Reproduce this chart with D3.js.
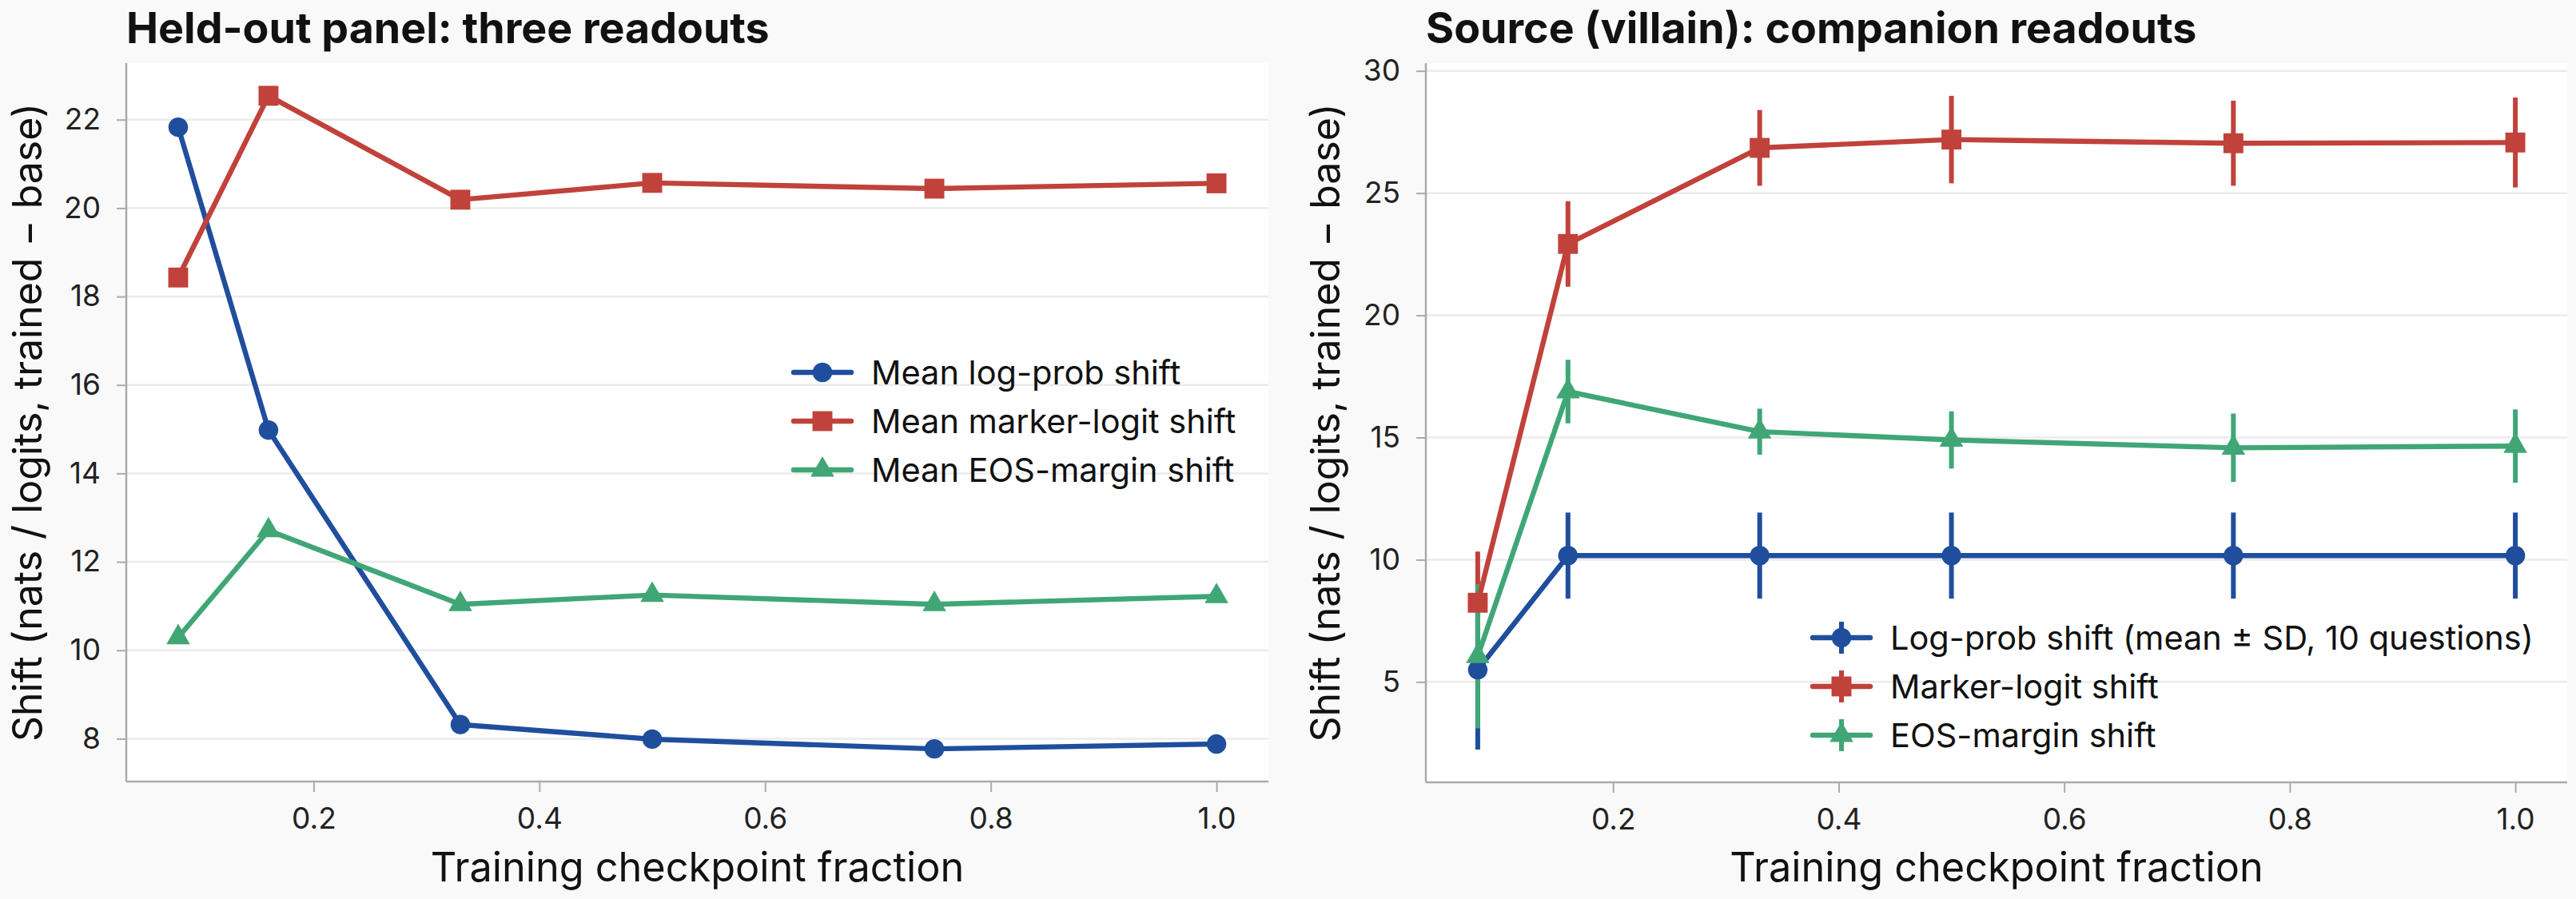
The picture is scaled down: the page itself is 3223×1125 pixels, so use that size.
<!DOCTYPE html>
<html>
<head>
<meta charset="utf-8">
<script src="https://cdn.jsdelivr.net/npm/d3@7"></script>
<style>
  body { margin: 0; background: #f9f9f9; }
  svg { display: block; font-family: Inter, "Noto Sans", sans-serif; }
</style>
</head>
<body>
<div id="chart"></div>
<script>
// checkpoints shared by both panels
const checkpoints = [0.08, 0.16, 0.33, 0.5, 0.75, 1.0];
const xTicks = [0.2, 0.4, 0.6, 0.8, 1.0];

// held-out panel
const heldLogProb = [21.83, 14.98, 8.32, 7.99, 7.77, 7.88];
const heldMarker = [18.43, 22.54, 20.19, 20.57, 20.44, 20.56];
const heldEos = [10.29, 12.71, 11.04, 11.25, 11.04, 11.22];
const heldYTicks = [8, 10, 12, 14, 16, 18, 20, 22];
const heldNames = ['Mean log-prob shift', 'Mean marker-logit shift', 'Mean EOS-margin shift'];

// source (villain) panel, mean and SD
const srcLogProb = [5.50, 10.17, 10.17, 10.17, 10.17, 10.17];
const srcLogProbSd = [3.27, 1.76, 1.76, 1.76, 1.76, 1.76];
const srcMarker = [8.24, 22.92, 26.85, 27.19, 27.04, 27.07];
const srcMarkerSd = [2.09, 1.75, 1.55, 1.79, 1.74, 1.84];
const srcEos = [6.05, 16.88, 15.24, 14.90, 14.58, 14.65];
const srcEosSd = [2.95, 1.30, 0.94, 1.17, 1.40, 1.50];
const srcYTicks = [5, 10, 15, 20, 25, 30];
const srcNames = ['Log-prob shift (mean \u00b1 SD, 10 questions)', 'Marker-logit shift', 'EOS-margin shift'];

const colors = ['#1f4e9d', '#c0423b', '#40a676'];
const shapes = [d3.symbolCircle, d3.symbolSquare, d3.symbolTriangle];
const symSizes = [470, 620, 380];

const W = 3223, H = 1125;
const svg = d3.select('#chart').append('svg')
    .attr('width', W).attr('height', H);
svg.append('rect').attr('width', W).attr('height', H).attr('fill', '#f9f9f9');

// matplotlib-like 5% padding
function padDomain(lo, hi) {
  const m = (hi - lo) * 0.05;
  return [lo - m, hi + m];
}

function panel(opts) {
  const {left, right, top, bottom, series, yTicks, title, names, legend} = opts;
  const g = svg.append('g');

  const x = d3.scaleLinear()
      .domain(padDomain(d3.min(checkpoints), d3.max(checkpoints)))
      .range([left, right]);
  const lo = d3.min(series, s => d3.min(s.values, (v, i) => v - (s.sd ? s.sd[i] : 0)));
  const hi = d3.max(series, s => d3.max(s.values, (v, i) => v + (s.sd ? s.sd[i] : 0)));
  const y = d3.scaleLinear().domain(padDomain(lo, hi)).range([bottom, top]);

  g.append('rect')
      .attr('x', left).attr('y', top)
      .attr('width', right - left).attr('height', bottom - top)
      .attr('fill', '#ffffff');

  // grid
  g.append('g')
      .selectAll('line')
      .data(yTicks)
      .enter()
      .append('line')
      .attr('x1', left).attr('x2', right)
      .attr('y1', d => y(d)).attr('y2', d => y(d))
      .attr('stroke', '#ebebeb')
      .attr('stroke-width', 2.5);

  // axes
  const yAxis = g.append('g')
      .attr('transform', 'translate(' + left + ',0)')
      .call(d3.axisLeft(y).tickValues(yTicks).tickSize(12).tickPadding(20).tickSizeOuter(0));
  const xAxis = g.append('g')
      .attr('transform', 'translate(0,' + bottom + ')')
      .call(d3.axisBottom(x).tickValues(xTicks).tickFormat(d3.format('.1f'))
        .tickSize(13).tickPadding(20).tickSizeOuter(0));
  [xAxis, yAxis].forEach(a => {
    a.select('.domain').remove();
    a.selectAll('line').attr('stroke', '#aaaaaa').attr('stroke-width', 2);
    a.selectAll('text').attr('font-size', 37).attr('fill', '#222').attr('font-family', 'Inter');
  });
  g.append('line')
      .attr('x1', left).attr('x2', left).attr('y1', top).attr('y2', bottom)
      .attr('stroke', '#aaaaaa').attr('stroke-width', 2.5);
  g.append('line')
      .attr('x1', left).attr('x2', right).attr('y1', bottom).attr('y2', bottom)
      .attr('stroke', '#aaaaaa').attr('stroke-width', 2.5);

  // error bars first
  series.forEach((s, k) => {
    if (!s.sd) return;
    g.append('g')
        .selectAll('line')
        .data(s.values)
        .enter()
        .append('line')
        .attr('x1', (d, i) => x(checkpoints[i]))
        .attr('x2', (d, i) => x(checkpoints[i]))
        .attr('y1', (d, i) => y(d - s.sd[i]))
        .attr('y2', (d, i) => y(d + s.sd[i]))
        .attr('stroke', colors[k])
        .attr('stroke-width', 6);
  });

  const line = d3.line()
      .x((d, i) => x(checkpoints[i]))
      .y(d => y(d));

  series.forEach((s, k) => {
    g.append('path')
        .datum(s.values)
        .attr('d', line)
        .attr('fill', 'none')
        .attr('stroke', colors[k])
        .attr('stroke-width', 6.4)
        .attr('stroke-linejoin', 'round');
    g.append('g')
        .selectAll('path')
        .data(s.values)
        .enter()
        .append('path')
        .attr('transform', (d, i) => 'translate(' + x(checkpoints[i]) + ',' + y(d) + ')')
        .attr('d', d3.symbol().type(shapes[k]).size(symSizes[k]))
        .attr('fill', colors[k]);
  });

  // title
  g.append('text')
      .attr('x', left)
      .attr('y', 54)
      .attr('font-size', 53.7)
      .attr('font-weight', 700)
      .attr('fill', '#111')
      .text(title);

  // axis labels
  g.append('text')
      .attr('x', (left + right) / 2)
      .attr('y', 1103)
      .attr('text-anchor', 'middle')
      .attr('font-size', 50.4)
      .attr('fill', '#111')
      .text('Training checkpoint fraction');
  g.append('text')
      .attr('transform', 'translate(' + opts.yLabelX + ',' + (top + bottom) / 2 + ') rotate(-90)')
      .attr('text-anchor', 'middle')
      .attr('font-size', 50)
      .attr('fill', '#111')
      .text('Shift (nats / logits, trained \u2212 base)');

  // legend
  const lg = g.append('g');
  names.forEach((name, k) => {
    const cy = legend.y + k * legend.step;
    const cx = legend.x + 36;
    if (series[k].sd) {
      lg.append('line')
          .attr('x1', cx).attr('x2', cx)
          .attr('y1', cy - 20).attr('y2', cy + 20)
          .attr('stroke', colors[k]).attr('stroke-width', 6);
    }
    lg.append('line')
        .attr('x1', legend.x).attr('x2', legend.x + 72)
        .attr('y1', cy).attr('y2', cy)
        .attr('stroke', colors[k])
        .attr('stroke-width', 6.4)
        .attr('stroke-linecap', 'round');
    lg.append('path')
        .attr('transform', 'translate(' + cx + ',' + cy + ')')
        .attr('d', d3.symbol().type(shapes[k]).size(symSizes[k]))
        .attr('fill', colors[k]);
    lg.append('text')
        .attr('x', legend.x + 97)
        .attr('y', cy)
        .attr('dy', '0.36em')
        .attr('font-size', 41.5)
        .attr('fill', '#111')
        .text(name);
  });
}

panel({
  left: 158, right: 1587, top: 79, bottom: 978,
  yLabelX: 52,
  title: 'Held-out panel: three readouts',
  series: [{values: heldLogProb}, {values: heldMarker}, {values: heldEos}],
  yTicks: heldYTicks,
  names: heldNames,
  legend: {x: 993, y: 466, step: 61}
});

panel({
  left: 1784, right: 3212, top: 79, bottom: 979,
  yLabelX: 1676,
  title: 'Source (villain): companion readouts',
  series: [
    {values: srcLogProb, sd: srcLogProbSd},
    {values: srcMarker, sd: srcMarkerSd},
    {values: srcEos, sd: srcEosSd}
  ],
  yTicks: srcYTicks,
  names: srcNames,
  legend: {x: 2268, y: 798, step: 61}
});
</script>
</body>
</html>
